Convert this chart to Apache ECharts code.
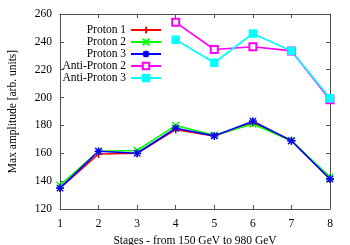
<!DOCTYPE html>
<html><head><meta charset="utf-8">
<script src="https://cdn.jsdelivr.net/npm/echarts@6/dist/echarts.min.js"></script>
<style>html,body{margin:0;padding:0;background:#fff}#c{width:350px;height:245px}</style>
</head><body><div id="c"></div>
<script>
var stages = [1,2,3,4,5,6,7,8];
var proton1 = [135,159.5,160,177,172.5,182,169,141.5];
var proton2 = [137,161.5,162,180,173,181,169,143];
var proton3 = [135,161.5,160,178,172.5,183,169,141.5];
var antiStages = [4,5,6,7,8];
var antiProton2 = [254,234.5,236.5,233.5,198.5];
var antiProton3 = [241.5,225,246,233.5,199.5];
var yTicks = [120,140,160,180,200,220,240,260];

function pairs(xs, ys){ return xs.map(function(x,i){return [x, ys[i]];}); }
var FONT = 'Liberation Serif';
var FS = 11.5;
var frame = '#505050';
function mk(name, xs, ys, color, symbol, size, extra){
  var s = {name:name, type:'line', data:pairs(xs,ys), symbol:symbol, symbolSize:size,
    lineStyle:{color:color, width:1.6}, itemStyle:{color:color, borderColor:color, borderWidth:1.4},
    showAllSymbol:true, animation:false, z:2};
  if (extra) for (var k in extra) s[k]=extra[k];
  return s;
}
var plus = 'path://M5,0L5,10M0,5L10,5';
var cross = 'path://M0,0L10,10M0,10L10,0';
var star = 'path://M5,0L5,10M0,5L10,5M1,1L9,9M1,9L9,1';
var chart = echarts.init(document.getElementById('c'), null, {renderer:'canvas'});
chart.setOption({
  animation:false,
  textStyle:{fontFamily:FONT},
  grid:{left:60, right:20, top:14, bottom:36, containLabel:false, outerBoundsMode:'none'},
  legend:{orient:'vertical', right:183, top:19, align:'right', itemWidth:30, itemHeight:8, itemGap:0,
    textStyle:{fontFamily:FONT, fontSize:FS, color:'#000', lineHeight:10.5},
    data:['Proton 1','Proton 2','Proton 3','Anti-Proton 2','Anti-Proton 3']},
  xAxis:[{type:'value', min:1, max:8, interval:1, name:'Stages - from 150 GeV to 980 GeV', nameLocation:'middle', nameGap:24,
    nameTextStyle:{fontFamily:FONT, fontSize:FS, color:'#000'},
    axisLine:{lineStyle:{color:frame}}, axisTick:{inside:true, length:4, lineStyle:{color:frame}},
    axisLabel:{fontFamily:FONT, fontSize:FS, color:'#000', margin:9}, splitLine:{show:false}},
    {type:'value', min:1, max:8, interval:1, position:'top', axisLine:{lineStyle:{color:frame}}, axisTick:{inside:true, length:4, lineStyle:{color:frame}}, axisLabel:{show:false}, splitLine:{show:false}}],
  yAxis:[{type:'value', min:yTicks[0], max:yTicks[yTicks.length-1], interval:20, name:'Max amplitude [arb. units]', nameLocation:'middle', nameGap:41,
    nameTextStyle:{fontFamily:FONT, fontSize:FS, color:'#000'},
    axisLine:{show:true, lineStyle:{color:frame}}, axisTick:{show:true, inside:true, length:4, lineStyle:{color:frame}},
    axisLabel:{fontFamily:FONT, fontSize:FS, color:'#000', margin:8}, splitLine:{show:false}},
    {type:'value', min:yTicks[0], max:yTicks[yTicks.length-1], interval:20, position:'right', axisLine:{show:true, lineStyle:{color:frame}}, axisTick:{show:true, inside:true, length:4, lineStyle:{color:frame}}, axisLabel:{show:false}, splitLine:{show:false}}],
  series:[
    mk('Proton 1', stages, proton1, '#ff0000', plus, 8),
    mk('Proton 2', stages, proton2, '#00ff00', cross, 7),
    mk('Proton 3', stages, proton3, '#0000ff', star, 8),
    mk('Anti-Proton 2', antiStages, antiProton2, '#ff00ff', 'emptyRect', 7, {itemStyle:{color:'#ff00ff', borderColor:'#ff00ff', borderWidth:1.4}}),
    mk('Anti-Proton 3', antiStages, antiProton3, '#00ffff', 'rect', 7)
  ]
});
</script></body></html>
